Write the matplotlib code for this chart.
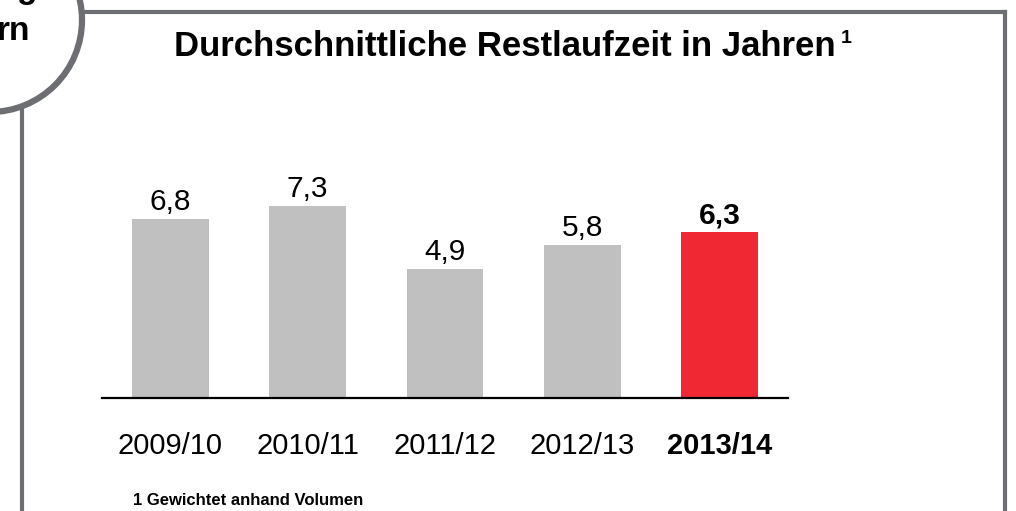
import matplotlib.pyplot as plt
from matplotlib.patches import Circle
from matplotlib.lines import Line2D
from matplotlib.transforms import IdentityTransform

plt.rcParams['font.family'] = ['Liberation Sans', 'DejaVu Sans']

years = ['2009/10', '2010/11', '2011/12', '2012/13', '2013/14']
values = [6.8, 7.3, 4.9, 5.8, 6.3]
labels = ['6,8', '7,3', '4,9', '5,8', '6,3']
highlight = [False, False, False, False, True]

W, H = 1016, 511
fig = plt.figure(figsize=(W / 100, H / 100), dpi=100)


def fx(x):
    return x / W


def fy(y):
    return 1 - y / H


border = '#6d6e72'

# frame around the chart (pixel coords from the top left)
frame = [((22, 12), (1005, 12)), ((1005, 12), (1005, 520)), ((22, 12), (22, 520))]
for (x0, y0), (x1, y1) in frame:
    fig.add_artist(Line2D([fx(x0), fx(x1)], [fy(y0), fy(y1)], color=border, lw=3,
                          solid_capstyle='projecting'))

# partly visible circle badge top left, only the visible fragments of its text
circ = Circle((-10, H - 20), 92, transform=IdentityTransform(), facecolor='white',
              edgecolor=border, lw=4.5, zorder=5)
fig.add_artist(circ)
fig.text(fx(37), fy(-2), 'g', ha='right', va='baseline', fontsize=24,
         fontweight='bold', zorder=6)
fig.text(fx(30), fy(40), 'rn', ha='right', va='baseline', fontsize=24,
         fontweight='bold', zorder=6)

# title with footnote mark
fig.text(fx(505), fy(56), 'Durchschnittliche Restlaufzeit in Jahren', ha='center',
         va='baseline', fontsize=25, fontweight='bold')
fig.text(fx(841), fy(43), '1', ha='left', va='baseline', fontsize=14, fontweight='bold')

# bar chart
ax_left, ax_right, ax_bottom, ax_top = 102, 788, 398, 100
ax = fig.add_axes([fx(ax_left), fy(ax_bottom), (ax_right - ax_left) / W,
                   (ax_bottom - ax_top) / H])
x = list(range(len(values)))
colors = ['#ef2833' if h else '#c0c0c0' for h in highlight]
ax.bar(x, values, width=0.56, color=colors)
ax.set_xlim(-0.495, 4.495)
ax.set_ylim(0, (ax_bottom - ax_top) / 26.3)

for xi, v, lab, h in zip(x, values, labels, highlight):
    ax.annotate(lab, (xi, v), xytext=(0, 6.5), textcoords='offset points', ha='center',
                va='baseline', fontsize=21.5, fontweight='bold' if h else 'normal')
    ax.annotate(years[xi], (xi, 0), xycoords=('data', 'axes fraction'), xytext=(0, -40.3),
                textcoords='offset points', ha='center', va='baseline', fontsize=21,
                fontweight='bold' if h else 'normal')

for s in ['top', 'right', 'left']:
    ax.spines[s].set_visible(False)
ax.spines['bottom'].set_linewidth(1.6)
ax.spines['bottom'].set_color('black')
ax.set_xticks([])
ax.set_yticks([])
ax.patch.set_alpha(0)

fig.text(fx(133), fy(505), '1 Gewichtet anhand Volumen', ha='left', va='baseline',
         fontsize=12, fontweight='bold')

plt.savefig('out.png', dpi=100)
plt.close(fig)
